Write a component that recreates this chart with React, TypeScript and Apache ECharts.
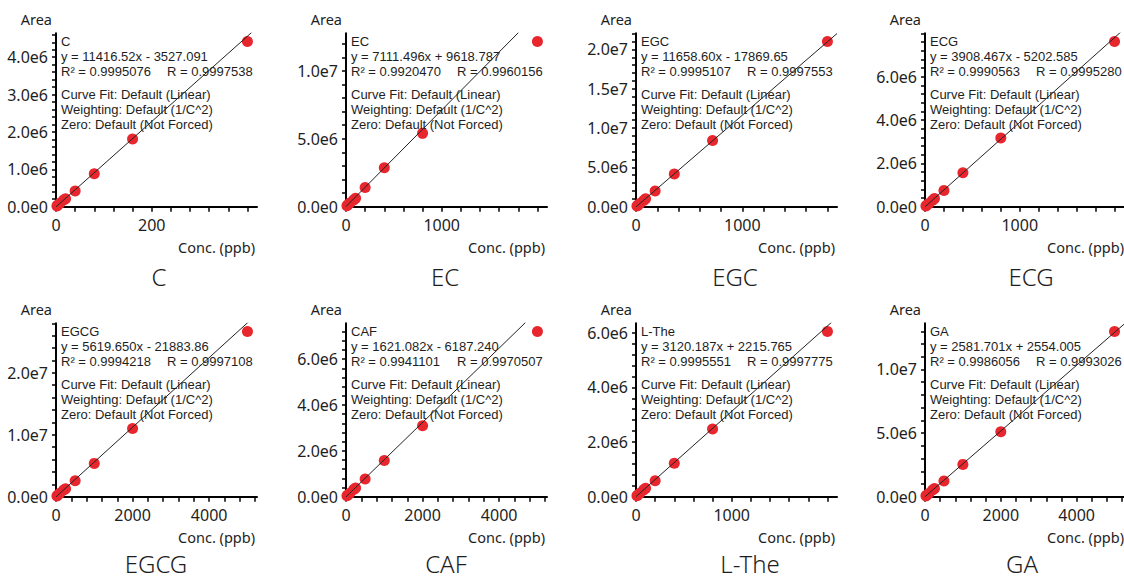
import React, { useEffect, useRef } from "react";
import * as echarts from "echarts";

// ---- data ----
const names = ["C", "EC", "EGC", "ECG", "EGCG", "CAF", "L-The", "GA"];

const concC = [2, 4, 8, 16, 20, 40, 80, 160, 400];
const areaC = [0.022e6, 0.045e6, 0.09e6, 0.18e6, 0.21e6, 0.42e6, 0.88e6, 1.81e6, 4.42e6];
const concEC = [10, 20, 40, 80, 100, 200, 400, 800, 2000];
const areaEC = [0.07e6, 0.14e6, 0.27e6, 0.5e6, 0.62e6, 1.42e6, 2.87e6, 5.4e6, 1.216e7];
const concEGC = [9, 18, 36, 72, 90, 180, 360, 720, 1800];
const areaEGC = [0.1e6, 0.2e6, 0.4e6, 0.8e6, 1.0e6, 2.0e6, 4.17e6, 8.43e6, 2.1e7];
const concECG = [10, 20, 40, 80, 100, 200, 400, 800, 2000];
const areaECG = [0.037e6, 0.075e6, 0.15e6, 0.3e6, 0.38e6, 0.75e6, 1.57e6, 3.17e6, 7.63e6];
const concEGCG = [25, 50, 100, 200, 250, 500, 1000, 2000, 5000];
const areaEGCG = [0.13e6, 0.27e6, 0.55e6, 1.08e6, 1.3e6, 2.58e6, 5.38e6, 1.1e7, 2.667e7];
const concCAF = [25, 50, 100, 200, 250, 500, 1000, 2000, 5000];
const areaCAF = [0.039e6, 0.078e6, 0.155e6, 0.31e6, 0.38e6, 0.77e6, 1.58e6, 3.09e6, 7.2e6];
const concLThe = [10, 20, 40, 80, 100, 200, 400, 800, 2000];
const areaLThe = [0.032e6, 0.063e6, 0.125e6, 0.25e6, 0.31e6, 0.58e6, 1.22e6, 2.48e6, 6.04e6];
const concGA = [25, 50, 100, 200, 250, 500, 1000, 2000, 5000];
const areaGA = [0.065e6, 0.13e6, 0.26e6, 0.52e6, 0.64e6, 1.23e6, 2.54e6, 5.1e6, 1.298e7];

const concs = [concC, concEC, concEGC, concECG, concEGCG, concCAF, concLThe, concGA];
const areas = [areaC, areaEC, areaEGC, areaECG, areaEGCG, areaCAF, areaLThe, areaGA];

const slopes = [11416.52, 7111.496, 11658.6, 3908.467, 5619.65, 1621.082, 3120.187, 2581.701];
const intercepts = [-3527.091, 9618.787, -17869.65, -5202.585, -21883.86, -6187.24, 2215.765, 2554.005];

const equations = [
  "y = 11416.52x - 3527.091",
  "y = 7111.496x + 9618.787",
  "y = 11658.60x - 17869.65",
  "y = 3908.467x - 5202.585",
  "y = 5619.650x - 21883.86",
  "y = 1621.082x - 6187.240",
  "y = 3120.187x + 2215.765",
  "y = 2581.701x + 2554.005",
];
const r2Texts = ["0.9995076", "0.9920470", "0.9995107", "0.9990563", "0.9994218", "0.9941101", "0.9995551", "0.9986056"];
const rTexts = ["0.9997538", "0.9960156", "0.9997553", "0.9995280", "0.9997108", "0.9970507", "0.9997775", "0.9993026"];

const infoLines = ["Curve Fit: Default (Linear)", "Weighting: Default (1/C^2)", "Zero: Default (Not Forced)"];

// tick labels
const xMajor = [[0, 200], [0, 1000], [0, 1000], [0, 1000], [0, 2000, 4000], [0, 2000, 4000], [0, 1000], [0, 2000, 4000]];
const xMinorStep = [40, 200, 200, 200, 400, 400, 200, 400];
const yMajor = [
  [0, 1e6, 2e6, 3e6, 4e6],
  [0, 5e6, 1e7],
  [0, 5e6, 1e7, 1.5e7, 2e7],
  [0, 2e6, 4e6, 6e6],
  [0, 1e7, 2e7],
  [0, 2e6, 4e6, 6e6],
  [0, 2e6, 4e6, 6e6],
  [0, 5e6, 1e7],
];
const yMinorStep = [2e5, 1e6, 1e6, 4e5, 2e6, 4e5, 4e5, 1e6];

const titleX = [159, 445, 735, 1031, 156, 446, 750, 1022];

// ---- layout ----
const COL_LEFT = [56, 346, 636, 925];
const ROW_TOP = [33.3, 323.3];
const PLOT_W = 201;
const PLOT_H = 173.4;
const TITLE_Y = [276, 563];
const FONT = '"Noto Sans", sans-serif';
const INFO_FONT = '"Liberation Sans", Arial, sans-serif';
const TXT = "#1e1e1e";

function stepValues(step: number, max: number) {
  const out: number[] = [];
  for (let k = 0; k * step <= max + 1e-9; k++) out.push(k * step);
  return out;
}

const fmtY = (v: number) => v.toExponential(1).replace("e+", "e");
const fmtX = (v: number) => String(v);

export default function App() {
  const ref = useRef<HTMLDivElement>(null);
  useEffect(() => {
    if (!ref.current) return;
    const chart = echarts.init(ref.current, null, { renderer: "svg" });
    const grid: any[] = [];
    const xAxis: any[] = [];
    const yAxis: any[] = [];
    const series: any[] = [];
    const graphic: any[] = [];

    names.forEach((name, i) => {
      const col = i % 4;
      const row = Math.floor(i / 4);
      const gl = COL_LEFT[col];
      const gt = ROW_TOP[row];
      const gb = gt + PLOT_H;
      const xmax = Math.max(...concs[i]) * 1.05;
      const ymax = Math.max(...areas[i]) * 1.05;
      grid.push({ left: gl, top: gt, width: PLOT_W, height: PLOT_H, containLabel: false });
      xAxis.push({
        type: "value",
        gridIndex: i,
        min: 0,
        max: xmax,
        axisLine: { show: true, onZero: false, lineStyle: { color: "#000", width: 2 } },
        axisTick: { show: true, length: 5, lineStyle: { color: "#000", width: 1.5 }, customValues: stepValues(xMinorStep[i], xmax) },
        axisLabel: {
          customValues: xMajor[i],
          margin: 10,
          fontSize: 16,
          fontFamily: FONT,
          color: TXT,
          formatter: fmtX,
        },
        splitLine: { show: false },
      });
      yAxis.push({
        type: "value",
        gridIndex: i,
        min: 0,
        max: ymax,
        axisLine: { show: true, onZero: false, lineStyle: { color: "#000", width: 2 } },
        axisTick: { show: true, length: 4, lineStyle: { color: "#000", width: 1.5 }, customValues: stepValues(yMinorStep[i], ymax) },
        axisLabel: {
          customValues: yMajor[i],
          margin: 8,
          fontSize: 16,
          fontFamily: FONT,
          color: TXT,
          formatter: fmtY,
        },
        splitLine: { show: false },
      });
      series.push({
        type: "scatter",
        xAxisIndex: i,
        yAxisIndex: i,
        data: concs[i].map((c, k) => [c, areas[i][k]]),
        symbolSize: 11,
        itemStyle: { color: "#e8262d", opacity: 1 },
        clip: false,
        z: 2,
      });
      series.push({
        type: "line",
        xAxisIndex: i,
        yAxisIndex: i,
        data: [
          [0, intercepts[i]],
          [xmax, slopes[i] * xmax + intercepts[i]],
        ],
        symbol: "none",
        lineStyle: { color: "#222", width: 1 },
        clip: true,
        z: 3,
      });

      const tx = gl + 5;
      const lineY = [7.7, 22.7, 37.7, 60.7, 75.7, 90.7].map((d) => gt + d);
      const txt = (text: string, x: number, y: number, size: number, family: string, align = "left", weight: any = "normal", lh?: number) => ({
        type: "text",
        silent: true,
        z: 10,
        style: {
          text,
          x,
          y,
          fill: TXT,
          fontSize: size,
          fontFamily: family,
          fontWeight: weight,
          lineHeight: lh ?? Math.round(size * 1.05),
          textAlign: align,
          textVerticalAlign: "middle",
        },
      });
      graphic.push(txt(name, tx, lineY[0], 13, INFO_FONT, "left", "normal", 14));
      graphic.push(txt(equations[i], tx, lineY[1], 13, INFO_FONT, "left", "normal", 14));
      graphic.push(txt("R\u00b2 = " + r2Texts[i], tx, lineY[2], 13, INFO_FONT, "left", "normal", 14));
      graphic.push(txt("R = " + rTexts[i], tx + 106, lineY[2], 13, INFO_FONT, "left", "normal", 14));
      infoLines.forEach((l, k) => graphic.push(txt(l, tx, lineY[3 + k], 13, INFO_FONT, "left", "normal", 14)));
      graphic.push(txt("Area", gl - 4, gt - 14.3, 14.5, FONT, "right"));
      graphic.push(txt("Conc. (ppb)", gl + PLOT_W - 2, gb + 40.3, 14.5, FONT, "right"));
      graphic.push(txt(name, titleX[i], TITLE_Y[row], 24, FONT, "center", 300, 22));
    });

    chart.setOption({
      animation: false,
      backgroundColor: "#fff",
      grid,
      xAxis,
      yAxis,
      series,
      graphic,
    });
    return () => chart.dispose();
  }, []);
  return <div ref={ref} style={{ position: "absolute", left: 0, top: 0, width: 1124, height: 579 }} />;
}
